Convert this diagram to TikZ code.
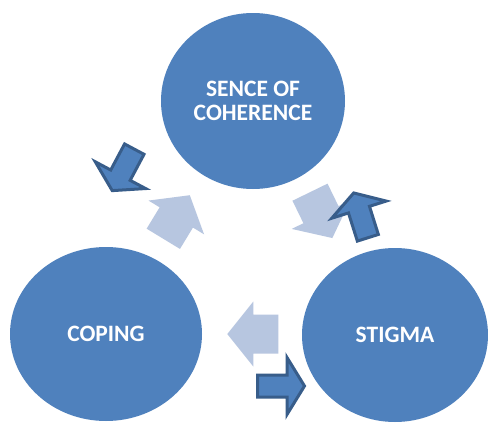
\documentclass[tikz,border=0pt]{standalone}
\usepackage{fontspec}
\setmainfont{Carlito}
\usetikzlibrary{shapes.geometric}
\definecolor{circblue}{HTML}{4F81BD}
\definecolor{darkedge}{HTML}{385D8A}
\definecolor{lightarrowcol}{HTML}{B7C6E0}
\tikzset{
  circ/.style={ellipse, fill=circblue, text=white, inner sep=0pt,
    font=\bfseries\fontsize{23.5}{24}\selectfont, align=center},
  darkarr/.style={fill=circblue, draw=darkedge, line width=3pt, line join=miter},
  lightarr/.style={fill=lightarrowcol},
  darkpic/.pic={\path[darkarr] (1.5,-11) -- (31,-11) -- (31,-28.5) -- (48.5,0)
      -- (31,28.5) -- (31,11) -- (1.5,11) -- cycle;},
  lightpic/.pic={\path[lightarr] (0,-19.5) -- (25,-19.5) -- (25,-32.5) -- (51,0)
      -- (25,32.5) -- (25,19.5) -- (0,19.5) -- cycle;},
}
\begin{document}
\begin{tikzpicture}[x=1pt,y=-1pt]
\useasboundingbox[fill=white] (0,0) rectangle (488,423);
% light arrows
\pic[rotate=58.7] (l1) at (163.3,238.8) {lightpic};
\pic[rotate=-64] (l2) at (310,192.2) {lightpic};
\pic[rotate=180] (l3) at (278.3,334) {lightpic};
% dark arrows
\pic[rotate=242] (d1) at (135,147.8) {darkpic};
\pic[rotate=107.5] (d2) at (368.3,239.2) {darkpic};
\pic[rotate=0] (d3) at (256,386) {darkpic};
% circles
\node[circ, minimum width=184pt, minimum height=176pt] (soc) at (253,101) {SENCE OF\\COHERENCE};
\node[circ, minimum width=192pt, minimum height=174pt] (cop) at (106,334) {COPING};
\node[circ, minimum width=186pt, minimum height=174pt] (stg) at (395,335) {STIGMA};
\end{tikzpicture}
\end{document}
